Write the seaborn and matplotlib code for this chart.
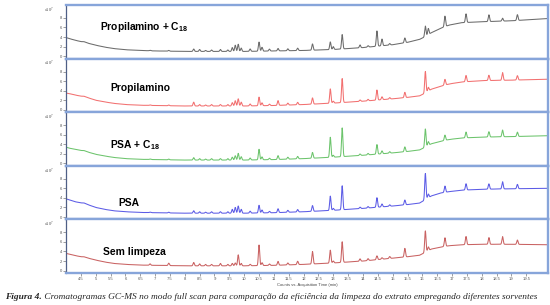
import numpy as np
import pandas as pd
import seaborn as sns
import matplotlib
matplotlib.use('Agg')
import matplotlib.pyplot as plt

# ---- data (time in min, counts in x10^7) ----
panel_names = ['Propilamino + C18', 'Propilamino', 'PSA + C18', 'PSA', 'Sem limpeza']
panel_labels = ['Propilamino + C$_{\\mathbf{18}}$', 'Propilamino',
                'PSA + C$_{\\mathbf{18}}$', 'PSA', 'Sem limpeza']
panel_colors = ['#6b6b6b', '#f27070', '#6cc46c', '#5c5ce6', '#c96262']

# baseline anchors (time, counts) per panel
base_t = [3.98, 4.0, 4.1, 4.3, 4.5, 4.6, 4.75, 5.0, 5.3, 5.6, 6.0, 6.5, 7.0, 8.0,
          10.0, 11.0, 12.0, 13.0, 14.0, 15.0, 15.5, 15.9, 16.1, 16.3, 16.6, 16.9,
          17.3, 18.0, 19.0, 20.3]
base_p1 = [0, 3.9, 3.7, 3.35, 3.05, 3.05, 2.7, 2.3, 1.9, 1.6, 1.35, 1.2, 1.1, 1.0,
           1.0, 1.1, 1.2, 1.4, 1.8, 2.4, 2.9, 3.5, 4.1, 4.9, 5.8, 6.5,
           7.0, 7.2, 7.4, 7.9]
base_p2 = [0, 3.5, 3.4, 3.1, 2.85, 2.85, 2.5, 2.0, 1.65, 1.35, 1.1, 0.95, 0.9, 0.8,
           0.8, 0.9, 1.1, 1.4, 1.8, 2.3, 2.6, 2.9, 3.5, 4.3, 4.9, 5.4,
           5.8, 6.1, 6.2, 6.4]
base_p3 = [0, 3.4, 3.2, 2.95, 2.7, 2.7, 2.35, 1.9, 1.55, 1.25, 1.0, 0.85, 0.8, 0.7,
           0.7, 0.8, 1.0, 1.3, 1.7, 2.2, 2.5, 2.8, 3.4, 4.1, 4.6, 5.0,
           5.3, 5.5, 5.6, 5.8]
base_p4 = [0, 3.8, 3.6, 3.2, 2.95, 2.95, 2.55, 2.0, 1.6, 1.3, 1.1, 0.95, 0.9, 0.8,
           0.8, 0.9, 1.1, 1.4, 1.8, 2.3, 2.6, 2.9, 3.6, 4.4, 5.0, 5.3,
           5.6, 5.8, 5.9, 6.0]
base_p5 = [0, 3.6, 3.45, 3.15, 2.9, 2.9, 2.6, 2.2, 1.8, 1.5, 1.3, 1.15, 1.1, 1.0,
           1.0, 1.1, 1.3, 1.6, 2.0, 2.6, 2.9, 3.2, 3.8, 4.5, 4.9, 5.2,
           5.4, 5.5, 5.5, 5.4]

# peaks: retention time and height above baseline
peak_t = [6.83, 7.46, 8.3, 8.5, 8.7, 8.9, 9.2, 9.45, 9.6, 9.7, 9.8, 9.9, 10.2,
          10.5, 10.6, 10.85, 11.14, 11.47, 11.8, 12.3, 12.9, 13.0, 13.3, 13.9,
          14.17, 14.47, 14.64, 14.9, 15.41, 16.1, 16.2, 16.76, 17.47, 18.24,
          18.7, 19.2]
peak_p1 = [0.1, 0.15, 0.5, 0.4, 0.2, 0.3, 0.4, 0.3, 0.8, 1.3, 1.5, 0.7, 0.5,
           1.9, 0.8, 0.4, 0.5, 0.4, 0.5, 1.3, 1.6, 0.6, 3.0, 0.6,
           0.3, 3.2, 1.4, 0.3, 1.0, 2.2, 1.3, 2.2, 1.8, 1.4,
           0.6, 1.2]
peak_p2 = [0.1, 0.15, 0.8, 0.3, 0.2, 0.3, 0.3, 0.3, 0.7, 1.1, 1.5, 0.8, 0.4,
           1.8, 0.6, 0.3, 1.0, 0.4, 0.5, 1.3, 3.0, 0.4, 5.0, 0.3,
           0.3, 2.1, 0.6, 0.3, 1.1, 4.5, 0.8, 1.2, 1.3, 1.1,
           1.6, 0.9]
peak_p3 = [0.1, 0.15, 0.5, 0.3, 0.2, 0.3, 0.3, 0.3, 0.6, 0.9, 1.4, 0.7, 0.4,
           2.2, 0.6, 0.3, 0.8, 0.4, 0.5, 1.2, 4.2, 0.4, 6.0, 0.3,
           0.3, 2.0, 0.6, 0.3, 1.0, 3.8, 0.8, 1.1, 1.2, 1.1,
           1.4, 0.9]
peak_p4 = [0.1, 0.15, 0.5, 0.3, 0.2, 0.3, 0.3, 0.3, 0.8, 1.2, 1.5, 0.8, 0.4,
           1.6, 0.6, 0.3, 0.8, 0.4, 0.5, 1.2, 3.0, 0.4, 5.0, 0.3,
           0.3, 2.0, 0.6, 0.3, 1.0, 5.5, 0.8, 1.3, 1.3, 1.1,
           1.5, 0.9]
peak_p5 = [0.3, 0.5, 0.7, 0.4, 0.3, 0.3, 0.5, 0.3, 0.5, 0.6, 2.3, 0.5, 0.3,
           4.3, 0.6, 0.3, 0.8, 0.4, 0.7, 2.6, 2.7, 0.4, 4.3, 0.5,
           0.4, 0.8, 0.3, 0.4, 1.8, 4.5, 0.8, 1.8, 1.7, 1.4,
           1.6, 0.9]

x_ticks = np.arange(4.5, 20.0, 0.5)
y_ticks = [0, 2, 4, 6, 8]

bases = [base_p1, base_p2, base_p3, base_p4, base_p5]
peaks = [peak_p1, peak_p2, peak_p3, peak_p4, peak_p5]

# build long-form table of traces
t = np.linspace(3.95, 20.3, 4000)
rows = []
for name, b, p in zip(panel_names, bases, peaks):
    y = np.interp(t, base_t, b)
    for pt, ph in zip(peak_t, p):
        y = y + ph * np.exp(-0.5 * ((t - pt) / 0.022) ** 2)
    rows.append(pd.DataFrame({'time': t, 'counts': y, 'panel': name}))
df = pd.concat(rows, ignore_index=True)

sns.set_style('white')
plt.rcParams['font.family'] = ['Liberation Sans', 'DejaVu Sans']
plt.rcParams['mathtext.fontset'] = 'custom'
plt.rcParams['mathtext.bf'] = 'Liberation Sans:bold'
plt.rcParams['mathtext.rm'] = 'Liberation Sans'

W, H = 550, 305
fig = plt.figure(figsize=(W / 100, H / 100), dpi=100)

border = '#87a5da'
left, right = 66, 548
top0, ph = 5, 53.6

for i, (name, color) in enumerate(zip(panel_names, panel_colors)):
    top = top0 + ph * i
    ax = fig.add_axes([left / W, 1 - (top + ph) / H, (right - left) / W, ph / H])
    sns.lineplot(data=df[df['panel'] == name], x='time', y='counts', color=color,
                 lw=0.75, estimator=None, ax=ax)
    ax.set_xlim(4.0, 20.23)
    ax.set_ylim(-0.5, 10.7)
    ax.set_xlabel('')
    ax.set_ylabel('')
    for s in ax.spines.values():
        s.set_color(border)
        s.set_linewidth(1.7)
    ax.spines['left'].set_color('#4f5f86')
    ax.spines['left'].set_linewidth(0.9)
    ax.set_yticks(y_ticks)
    ax.set_yticklabels([str(v) for v in y_ticks])
    ax.tick_params(axis='y', length=2, width=0.4, pad=1, labelsize=3, colors='#555555', left=True)
    ax.text(-0.025, 0.99, 'x10$^7$', transform=ax.transAxes, fontsize=2.8,
            color='#555555', ha='right', va='top')
    if i == 4:
        ax.set_xticks(x_ticks)
        ax.set_xticklabels(['%g' % v for v in x_ticks])
        ax.tick_params(axis='x', length=2, width=0.4, pad=1, labelsize=3,
                       colors='#555555', bottom=True)
        ax.set_xlabel('Counts vs. Acquisition Time (min)', fontsize=3, color='#444444',
                      labelpad=1)
    else:
        ax.set_xticks([])

# panel titles placed inside each trace box
label_pos = [(100, 27), (110, 88), (110, 145.5), (118, 203), (103, 252)]
for label, (lx, ly) in zip(panel_labels, label_pos):
    fig.text(lx / W, 1 - ly / H, label, fontsize=7.4, fontweight='bold',
             ha='left', va='center', color='black')

# caption
cap = fig.add_axes([0, 0, 1, 1])
cap.axis('off')
t1 = cap.text(5 / W, 1 - 299 / H, 'Figura 4.', fontsize=6.75, style='italic',
              fontweight='bold', family='Liberation Serif', transform=cap.transAxes,
              va='baseline')
cap.annotate(' Cromatogramas GC-MS no modo full scan para comparação da eficiência '
             'da limpeza do extrato empregando diferentes sorventes',
             xy=(1, 0), xycoords=t1, va='bottom', ha='left', fontsize=6.75,
             style='italic', family='Liberation Serif')

fig.savefig('out.png', dpi=100)
